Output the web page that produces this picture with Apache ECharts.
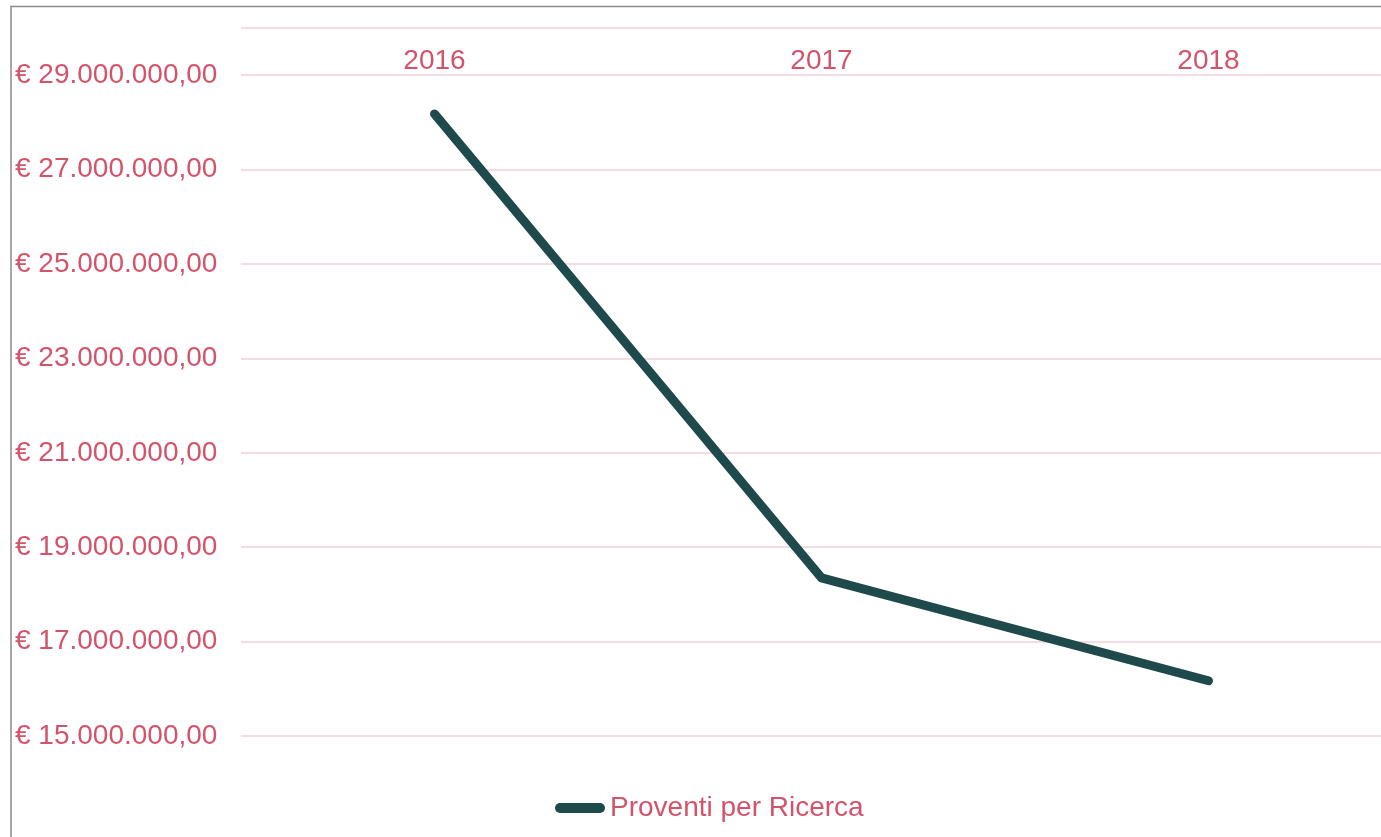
<!DOCTYPE html>
<html>
<head>
<meta charset="utf-8">
<script src="https://cdn.jsdelivr.net/npm/echarts@6/dist/echarts.min.js"></script>
<style>
  html, body { margin: 0; padding: 0; background: #fff; }
  #chart { width: 1381px; height: 837px; }
</style>
</head>
<body>
<div id="chart"></div>
<script>
// dati
const years = ['2016', '2017', '2018']
const proventi = [28180000, 18350000, 16170000]
const seriesName = 'Proventi per Ricerca'

const red = '#d3546a'
const lineColor = '#1f4a4b'

function euro(v) {
  let s = Math.round(v).toString().replace(/\B(?=(\d{3})+(?!\d))/g, '.')
  return '€ ' + s + ',00'
}

let myChart = echarts.init(document.getElementById('chart'))
let option = {
  animation: false,
  textStyle: { fontFamily: 'Liberation Sans, Arial, sans-serif' },
  graphic: [
    {
      type: 'rect',
      shape: { x: 11, y: 6.5, width: 1400, height: 900 },
      style: { fill: 'none', stroke: '#8a8a8a', lineWidth: 1.5 },
      silent: true,
    },
  ],
  grid: { left: 241, top: 28, right: -21, bottom: 101, outerBoundsMode: 'none' },
  legend: {
    left: 550,
    top: 789,
    itemWidth: 50,
    itemHeight: 10,
    icon: 'path://M5,0 H45 A5,5 0 0 1 45,10 H5 A5,5 0 0 1 5,0 Z',
    itemStyle: { color: lineColor },
    textStyle: { color: red, fontSize: 28, padding: [0, 0, 0, 0] },
    data: [seriesName],
  },
  xAxis: {
    type: 'category',
    position: 'top',
    data: years,
    axisLine: { show: false },
    axisTick: { show: false },
    axisLabel: { inside: true, margin: 19, color: red, fontSize: 28 },
  },
  yAxis: {
    type: 'value',
    min: 15000000,
    max: 30000000,
    interval: 2000000,
    axisLine: { show: false },
    axisTick: { show: false },
    splitLine: { lineStyle: { color: '#f2d0da', width: 1.5 } },
    axisLabel: {
      showMaxLabel: false,
      align: 'left',
      margin: 226,
      color: red,
      fontSize: 28,
      formatter: euro,
    },
  },
  series: [
    {
      name: seriesName,
      type: 'line',
      data: proventi,
      symbol: 'none',
      lineStyle: { color: lineColor, width: 9, cap: 'round', join: 'round' },
      itemStyle: { color: lineColor },
    },
  ],
}
myChart.setOption(option)
</script>
</body>
</html>
